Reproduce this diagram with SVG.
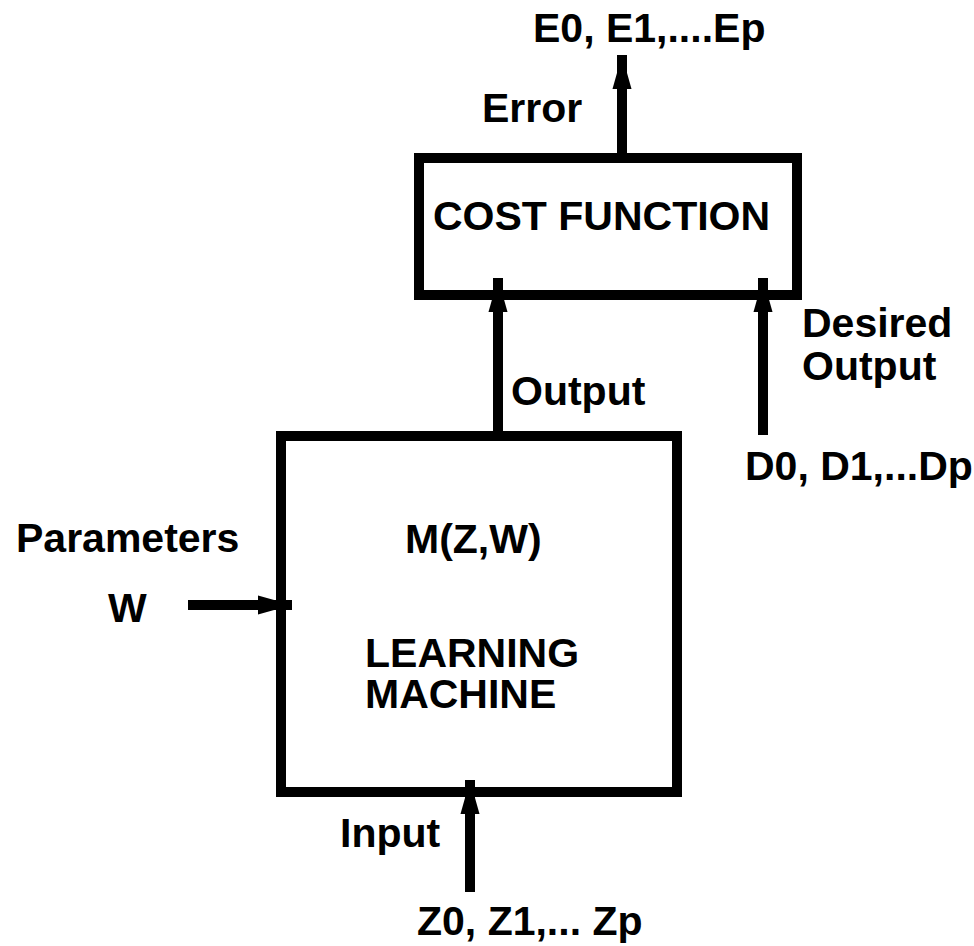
<svg xmlns="http://www.w3.org/2000/svg" width="974" height="946" viewBox="0 0 974 946">
<style>
text{font-family:"Liberation Sans",Arial,sans-serif;font-weight:bold;font-size:41px;fill:#000}
.box{fill:#fff;stroke:#000;stroke-width:10}
.wire{stroke:#000;stroke-width:10;fill:none}
</style>
<defs>
<marker id="ah" markerUnits="userSpaceOnUse" markerWidth="34" markerHeight="20" refX="34" refY="10" orient="auto" viewBox="0 0 34 20">
<path d="M0,0.5 L34,10 L0,19.5 z" fill="#000"/>
</marker>
</defs>
<rect width="974" height="946" fill="#fff"/>
<g id="cost-function">
<rect class="box" x="419" y="158" width="378" height="137"/>
<text x="433" y="230">COST FUNCTION</text>
</g>
<g id="learning-machine">
<rect class="box" x="281" y="436" width="396" height="356"/>
<text x="405" y="553">M(Z,W)</text>
<text x="365" y="667">LEARNING</text>
<text x="365" y="708">MACHINE</text>
</g>
<g id="connectors">
<line class="wire" x1="622" y1="158" x2="622" y2="55" marker-end="url(#ah)"/>
<line class="wire" x1="498" y1="436" x2="498" y2="278" marker-end="url(#ah)"/>
<line class="wire" x1="763" y1="435" x2="763" y2="278" marker-end="url(#ah)"/>
<line class="wire" x1="470" y1="892" x2="470" y2="780" marker-end="url(#ah)"/>
<line class="wire" x1="188" y1="605" x2="292" y2="605" marker-end="url(#ah)"/>
</g>
<g id="labels">
<text x="533" y="42">E0, E1,....Ep</text>
<text x="482" y="122">Error</text>
<text x="511" y="405">Output</text>
<text x="802" y="337">Desired</text>
<text x="802" y="380">Output</text>
<text x="745" y="480">D0, D1,...Dp</text>
<text x="16" y="552">Parameters</text>
<text x="108" y="622">W</text>
<text x="340" y="847">Input</text>
<text x="417" y="935">Z0, Z1,... Zp</text>
</g>
</svg>
